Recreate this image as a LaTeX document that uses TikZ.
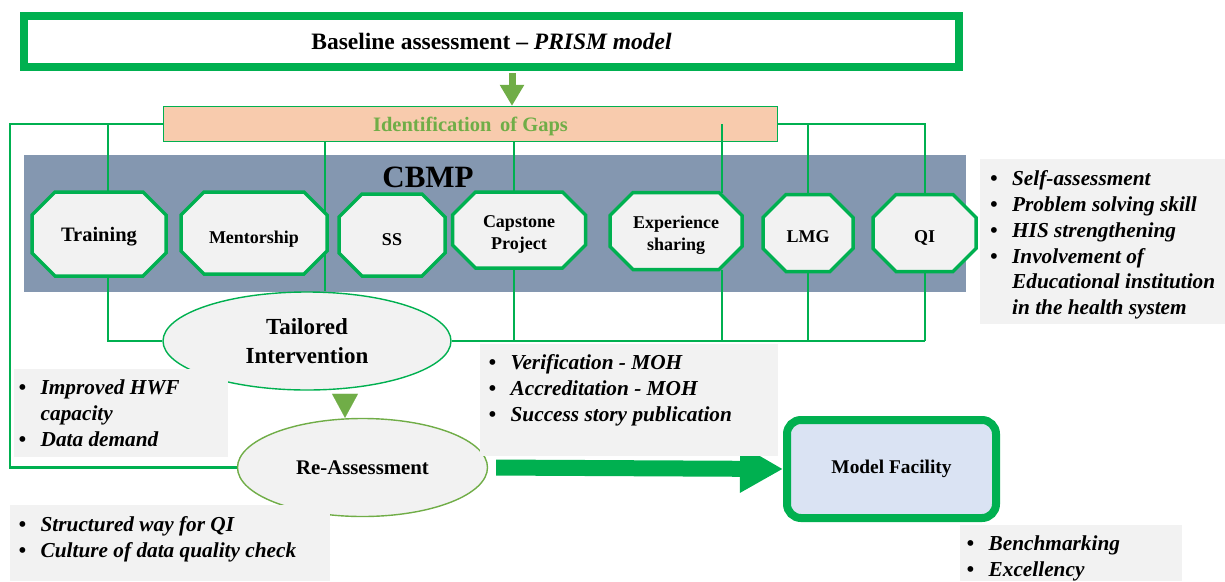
\documentclass[tikz,border=0pt]{standalone}
\usepackage{fontspec}
\setmainfont{Liberation Serif}
\usetikzlibrary{arrows.meta,calc,shapes.geometric}

\definecolor{fgreen}{HTML}{00B050}
\definecolor{lgreen}{HTML}{70AD47}
\definecolor{peach}{HTML}{F8CBAD}
\definecolor{band}{HTML}{8497B0}
\definecolor{boxgray}{HTML}{F2F2F2}
\definecolor{mfill}{HTML}{DAE3F3}

% chamfer size of the octagonal boxes
\def\octc{23}
% octagon: name, centre x, centre y, width, height, label, label drop
\newcommand\octa[7]{%
  \filldraw[octbox]
    ({#2-#4/2+\octc},{#3-#5/2}) -- ({#2+#4/2-\octc},{#3-#5/2}) --
    ({#2+#4/2},{#3-#5/2+\octc}) -- ({#2+#4/2},{#3+#5/2-\octc}) --
    ({#2+#4/2-\octc},{#3+#5/2}) -- ({#2-#4/2+\octc},{#3+#5/2}) --
    ({#2-#4/2},{#3+#5/2-\octc}) -- ({#2-#4/2},{#3-#5/2+\octc}) -- cycle;
  \node[octframe, minimum width=#4pt, minimum height=#5pt] (#1) at (#2,#3) {};
  \node[octlabel] (#1-text) at ($(#1.center)+(0,#7)$) {#6};
}
\newcommand\blist[1]{\begin{tabular}{@{}l@{\hspace{14.5pt}}l@{}}#1\end{tabular}}

\begin{document}
\begin{tikzpicture}[x=1pt,y=-1pt,
  link/.style={draw=fgreen, line width=2.6pt},
  octbox/.style={fill=boxgray, draw=fgreen, line width=3.5pt, line join=miter},
  octframe/.style={inner sep=0pt, outer sep=0pt},
  octlabel/.style={inner sep=0pt, outer sep=0pt, align=center,
    font=\bfseries\fontsize{18}{22}\selectfont},
  oval/.style={ellipse, fill=boxgray, draw=fgreen, line width=1.4pt, inner sep=0pt,
    align=center, font=\bfseries\fontsize{23}{29}\selectfont},
  listtext/.style={inner sep=0pt, anchor=north west,
    font=\bfseries\itshape\fontsize{21.3}{25.8}\selectfont},
]
\useasboundingbox (0,0) rectangle (1225,581);

% top box
\node[draw=fgreen, line width=8pt, minimum width=935pt, minimum height=51pt,
      font=\bfseries\fontsize{23.5}{26}\selectfont] (base) at (491.5,41.5)
      {Baseline assessment -- \textit{PRISM model}};

% CBMP band
\node[fill=band, minimum width=942pt, minimum height=137pt, inner sep=0pt] (cbmp) at (495,223.5) {};
\node[font=\bfseries\fontsize{31}{35}\selectfont, inner sep=0pt] (cbmptitle) at (428,177) {CBMP};

% gap box
\node[fill=peach, draw=fgreen, line width=1.2pt, minimum width=614pt, minimum height=35pt] (gaps) at (470.5,124) {};
\node[text=lgreen, inner sep=0pt, font=\bfseries\fontsize{20.5}{24}\selectfont] (gapstext)
      at ($(gaps.center)+(0,2)$) {Identification\,\ of Gaps};

% arrow from the top box to the gap box
\coordinate (ax) at (512,0);
\draw[lgreen, line width=7pt, -{Triangle[width=23pt,length=21pt]}, shorten <=2pt]
  (base.south -| ax) -- (gaps.north -| ax);

% ellipses (placed first so that the connectors can use them)
\node[oval, minimum width=288pt, minimum height=98pt] (tail) at (307,341) {Tailored\\Intervention};
\node[oval, draw=lgreen, minimum width=250pt, minimum height=98pt,
      font=\bfseries\fontsize{20.8}{24}\selectfont] (reass) at (362.5,467.5) {\raisebox{-2pt}{Re-Assessment}};

% fixed x positions of the vertical connectors
\coordinate (loopx) at (10,300);
\coordinate (trx) at (108,0);
\coordinate (midx) at (325,0);
\coordinate (capx) at (514,0);
\coordinate (expx) at (722,0);
\coordinate (lmgx) at (808,0);
\coordinate (qix) at (925,0);

% connectors behind the octagons
\draw[link] (gaps.west) -| (loopx) |- (reass.west);
\draw[link] (midx |- gaps.south) -- (midx |- tail.north);
\draw[link] (gaps.east) -| (qix |- cbmp.north);
\draw[link] (expx |- gaps.center) -- (expx |- cbmp.north);
\draw[link] (tail.east) -- (qix |- tail.east);

% octagons
\octa{train}{99}{234}{134}{84}{\fontsize{20.5}{24}\selectfont Training}{3}
\octa{ment}{254}{233}{146}{82}{Mentorship}{6}
\octa{ss}{392}{235}{106}{82}{SS}{5}
\octa{cap}{519}{230}{133}{76}{Capstone\\Project}{4}
\octa{exp}{676}{231}{132}{77}{Experience\\sharing}{4}
\octa{lmg}{808}{233}{90}{77}{LMG}{4}
\octa{qi}{924.5}{233}{103}{77}{QI}{5}

% connectors to the octagons
\draw[link] (trx |- gaps.west) -- (trx |- train.north);
\draw[link] (trx |- train.south) |- (tail.west);
\draw[link] (capx |- gaps.south) -- (capx |- cap.north);
\draw[link] (capx |- cap.south) -- (capx |- tail.east);
\draw[link] (expx |- cbmp.north) -- (expx |- exp.north);
\draw[link] (expx |- exp.south) -- (expx |- tail.east);
\draw[link] (lmgx |- gaps.east) -- (lmgx |- lmg.north);
\draw[link] (lmgx |- lmg.south) -- (lmgx |- tail.east);
\draw[link] (qix |- cbmp.north) -- (qix |- qi.north);
\draw[link] (qix |- qi.south) -- (qix |- tail.east);

% arrow between the ellipses
\coordinate (trix) at (345,0);
\draw[lgreen, line width=0.1pt, -{Triangle[width=26pt,length=24pt]}, shorten <=4pt]
  (trix |- tail.south) -- (trix |- reass.north);

% model facility and the wide arrow
\node[draw=fgreen, fill=mfill, line width=8pt, rounded corners=14pt,
      minimum width=209pt, minimum height=98pt,
      font=\bfseries\fontsize{19.4}{23}\selectfont] (model) at (891.5,469) {\raisebox{-2pt}{Model Facility}};
\draw[fgreen, line width=16pt, -{Triangle[width=45pt,length=43pt]}, shorten <=8pt]
  (reass.east) -- (model.west);

% grey note boxes
\fill[boxgray] (980,159) rectangle (1225,324);
\node[listtext] (noteright) at (990,167.5) {\blist{%
  \textbullet & Self-assessment\\
  \textbullet & Problem solving skill\\
  \textbullet & HIS strengthening\\
  \textbullet & Involvement of\\
              & Educational institution\\
              & in the health system}};

\fill[boxgray] (480,344) rectangle (778,456);
\node[listtext] (notemid) at (488.5,351.5) {\blist{%
  \textbullet & Verification - MOH\\
  \textbullet & Accreditation - MOH\\
  \textbullet & Success story publication}};

\fill[boxgray] (14,369) rectangle (228,457);
\node[listtext] (noteleft) at (18.5,376.5) {\blist{%
  \textbullet & Improved HWF\\
              & capacity\\
  \textbullet & Data demand}};

\fill[boxgray] (10,505) rectangle (330,581);
\node[listtext] (notelow) at (18.5,513.5) {\blist{%
  \textbullet & Structured way for QI\\
  \textbullet & Culture of data quality check}};

\fill[boxgray] (960,525) rectangle (1182,581);
\node[listtext] (notemodel) at (966.5,532.5) {\blist{%
  \textbullet & Benchmarking\\
  \textbullet & Excellency}};
\end{tikzpicture}
\end{document}
